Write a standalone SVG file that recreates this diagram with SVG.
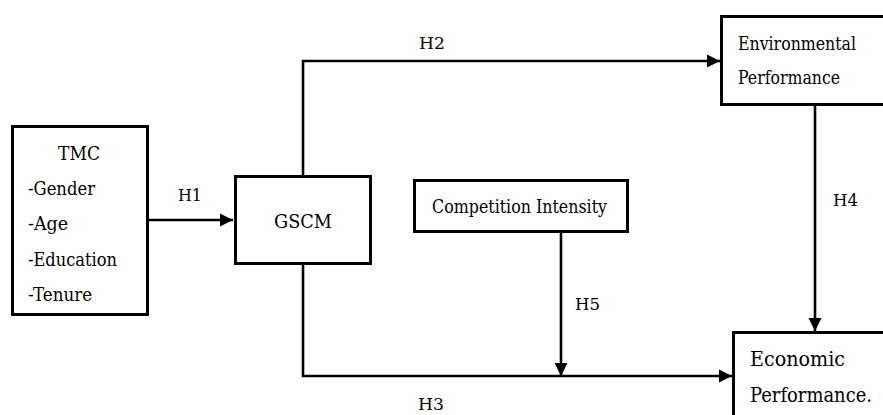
<svg xmlns="http://www.w3.org/2000/svg" width="883" height="415" viewBox="0 0 883 415">
<style>
.box{fill:#fff;stroke:#000;stroke-width:3}
.ln{fill:none;stroke:#000;stroke-width:2.6}
text{font-family:"DejaVu Serif","Liberation Serif",serif;fill:#000}
.t{font-size:18px}
.h{font-size:17px}
.big{font-size:21px}
</style>
<defs>
<marker id="arr" markerUnits="userSpaceOnUse" markerWidth="14" markerHeight="14" viewBox="0 0 14 14" refX="13" refY="7" orient="auto">
<path d="M0,0.5 L13,7 L0,13.5 Z" fill="#000"/>
</marker>
</defs>
<rect width="883" height="415" fill="#fff"/>
<g id="connectors">
<path class="ln" d="M149 220 H233" marker-end="url(#arr)"/>
<path class="ln" d="M303 175 V61 H720" marker-end="url(#arr)"/>
<path class="ln" d="M303 265 V376 H732" marker-end="url(#arr)"/>
<path class="ln" d="M815 106 V331" marker-end="url(#arr)"/>
<path class="ln" d="M561 233 V376" marker-end="url(#arr)"/>
<text class="h" x="178" y="201" textLength="24" lengthAdjust="spacingAndGlyphs">H1</text>
<text class="h" x="419" y="49" textLength="26" lengthAdjust="spacingAndGlyphs">H2</text>
<text class="h" x="418" y="410" textLength="26" lengthAdjust="spacingAndGlyphs">H3</text>
<text class="h" x="833" y="206" textLength="25" lengthAdjust="spacingAndGlyphs">H4</text>
<text class="h" x="575" y="310" textLength="25" lengthAdjust="spacingAndGlyphs">H5</text>
</g>
<g id="tmc">
<rect class="box" x="12.5" y="126.5" width="135" height="188"/>
<text class="t" x="58" y="160" textLength="42" lengthAdjust="spacingAndGlyphs">TMC</text>
<text class="t" x="28" y="195" textLength="67" lengthAdjust="spacingAndGlyphs">-Gender</text>
<text class="t" x="28" y="230" textLength="40" lengthAdjust="spacingAndGlyphs">-Age</text>
<text class="t" x="28" y="266" textLength="89" lengthAdjust="spacingAndGlyphs">-Education</text>
<text class="t" x="28" y="301" textLength="64" lengthAdjust="spacingAndGlyphs">-Tenure</text>
</g>
<g id="gscm">
<rect class="box" x="235.5" y="176.5" width="135" height="87"/>
<text class="t" x="274" y="228" textLength="58" lengthAdjust="spacingAndGlyphs">GSCM</text>
</g>
<g id="env">
<rect class="box" x="721.5" y="16.5" width="170" height="88"/>
<text class="t" x="738" y="50" textLength="118" lengthAdjust="spacingAndGlyphs">Environmental</text>
<text class="t" x="738" y="84" textLength="102" lengthAdjust="spacingAndGlyphs">Performance</text>
</g>
<g id="comp">
<rect class="box" x="414.5" y="180.5" width="213" height="51"/>
<text class="t" x="432" y="213" textLength="175" lengthAdjust="spacingAndGlyphs">Competition Intensity</text>
</g>
<g id="econ">
<rect class="box" x="733.5" y="332.5" width="160" height="100"/>
<text class="big" x="750" y="366" textLength="95" lengthAdjust="spacingAndGlyphs">Economic</text>
<text class="big" x="750" y="402" textLength="122" lengthAdjust="spacingAndGlyphs">Performance.</text>
</g>
</svg>
